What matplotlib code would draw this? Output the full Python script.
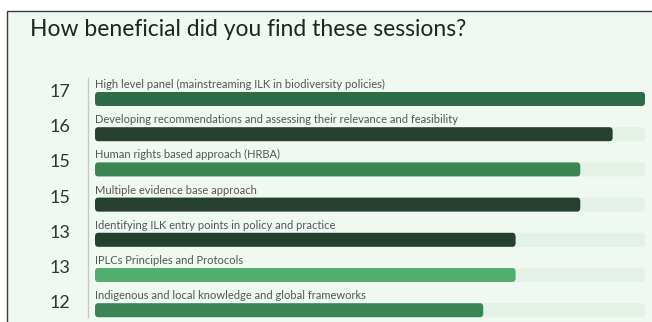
import matplotlib.pyplot as plt
from matplotlib.patches import FancyBboxPatch, Rectangle
from matplotlib.lines import Line2D
import matplotlib.transforms as mtransforms

plt.rcParams['font.family'] = ['Lato', 'DejaVu Sans']

# Data
sessions = [
    'High level panel (mainstreaming ILK in biodiversity policies)',
    'Developing recommendations and assessing their relevance and feasibility',
    'Human rights based approach (HRBA)',
    'Multiple evidence base approach',
    'Identifying ILK entry points in policy and practice',
    'IPLCs Principles and Protocols',
    'Indigenous and local knowledge and global frameworks',
]
counts = [17, 16, 15, 15, 13, 13, 12]
bar_colors = ['#2f6b45', '#263f2e', '#3a8553', '#263f2e', '#263f2e', '#52ad6f', '#3a8553']
max_count = 17

W, H = 652, 322
fig = plt.figure(figsize=(W / 100, H / 100), dpi=100, facecolor='white')

# panel background with border
fig.patches.append(Rectangle((7 / W, -0.05), 1.0, (H - 11) / H + 0.05, transform=fig.transFigure,
                             facecolor='#eff8f1', edgecolor='#3a3a3a', lw=1.0, zorder=-5))

fig.text(30 / W, 1 - 29 / H, 'How beneficial did you find these sessions?', fontsize=16.5,
         color='#222222', va='center', ha='left')

# axes for bars: x spans 95..645 px, y in row units
ax = fig.add_axes([95 / W, 0, 550 / W, 1])
ax.set_facecolor('none')
ax.set_xlim(0, max_count)
row_px = 35.2
ax.set_ylim((H - 99) / row_px, -99 / row_px)
ax.axis('off')

bar_h = 14 / row_px
rows = list(range(len(sessions)))
aspect = (550 / max_count) / row_px

track = ax.barh(rows, [max_count] * len(rows), height=bar_h, color='#e4f1e7')
bars = ax.barh(rows, counts, height=bar_h, color=bar_colors)
for cont, z in [(track, 1), (bars, 2)]:
    for p in cont.patches:
        x0, y0 = p.get_x(), p.get_y()
        w, h = p.get_width(), p.get_height()
        fb = FancyBboxPatch((x0, y0), w, h, boxstyle='round,pad=0,rounding_size=0.1',
                            mutation_aspect=1 / aspect, facecolor=p.get_facecolor(),
                            edgecolor='none', zorder=z)
        p.remove()
        ax.add_patch(fb)

trans = mtransforms.blended_transform_factory(fig.transFigure, ax.transData)
for i, (name, n) in enumerate(zip(sessions, counts)):
    ax.text(0, i - 0.41, name, fontsize=8, color='#555555', va='center', ha='left')
    ax.text(60 / W, i - 0.2, str(n), transform=trans, fontsize=13, color='#333333',
            va='center', ha='center')

fig.add_artist(Line2D([88 / W, 88 / W], [1 - 78 / H, 1 - 317 / H], transform=fig.transFigure,
                      color='#c4c9c5', lw=1.0))

fig.savefig('out.png', dpi=100, facecolor='white')
